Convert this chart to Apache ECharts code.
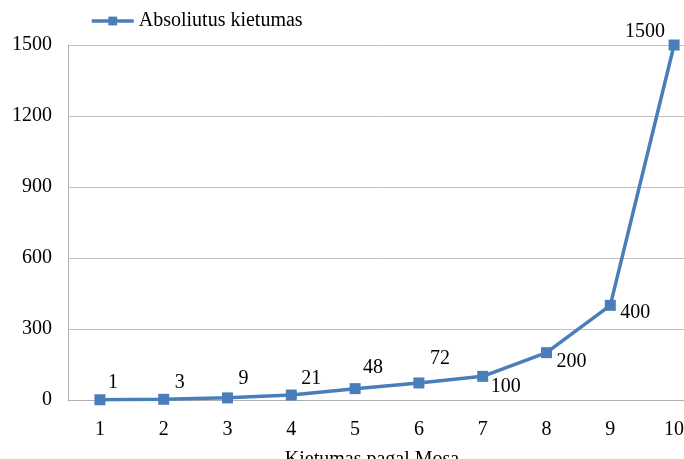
<!DOCTYPE html>
<html><head><meta charset="utf-8">
<script src="https://cdn.jsdelivr.net/npm/echarts@6/dist/echarts.min.js"></script>
<style>html,body{margin:0;padding:0;background:#fff}#c{width:684px;height:459px}</style>
</head><body><div id="c"></div>
<script>
const categories = ['1','2','3','4','5','6','7','8','9','10'];
const hardness = [1, 3, 9, 21, 48, 72, 100, 200, 400, 1500];
const seriesName = 'Absoliutus kietumas';
const xAxisName = 'Kietumas pagal Mosa';
const yTicks = {min: 0, max: 1500, interval: 300};

const labelOffsets = [[13,-17],[16,-17],[16,-19],[20,-16],[18,-21],[21,-24],[23,10],[25,9],[25,7],[-29,-13]];
const font = 'Liberation Serif';
const fs = 20;
const chart = echarts.init(document.getElementById('c'), null, {renderer:'canvas'});
chart.setOption({
  animation: false,
  textStyle: {fontFamily: font},
  legend: {
    left: 85, top: 6, itemWidth: 42, itemHeight: 11, itemGap: 3,
    textStyle: {fontFamily: font, fontSize: fs, color: '#000'},
    lineStyle: {width: 3.5, color: '#4a7ebb'},
    data: [seriesName]
  },
  grid: {left: 68, top: 45, width: 638, height: 355, containLabel: false, outerBoundsMode: 'none'},
  xAxis: {
    type: 'category', data: categories, boundaryGap: true,
    name: xAxisName, nameLocation: 'middle', nameGap: 50,
    nameTextStyle: {fontFamily: font, fontSize: fs, color: '#000', padding: [0, 30, 0, 0]},
    axisLine: {lineStyle: {color: '#b0b0b0'}},
    axisTick: {show: false},
    axisLabel: {fontFamily: font, fontSize: fs, color: '#000', margin: 20}
  },
  yAxis: {
    type: 'value', min: yTicks.min, max: yTicks.max, interval: yTicks.interval,
    axisLine: {show: true, lineStyle: {color: '#b0b0b0'}},
    axisTick: {show: false},
    splitLine: {lineStyle: {color: '#c0c0c0'}},
    axisLabel: {fontFamily: font, fontSize: fs, color: '#000', margin: 16, formatter: v => String(v)}
  },
  series: [{
    name: seriesName, type: 'line', data: hardness.map((v, i) => ({
      value: v,
      label: {offset: labelOffsets[i]}
    })),
    symbol: 'rect', symbolSize: 11,
    lineStyle: {color: '#4a7ebb', width: 3.5},
    itemStyle: {color: '#4a7ebb'},
    label: {show: true, position: 'inside', fontFamily: font, fontSize: fs, color: '#000', formatter: p => String(p.value)}
  }]
});
</script></body></html>
